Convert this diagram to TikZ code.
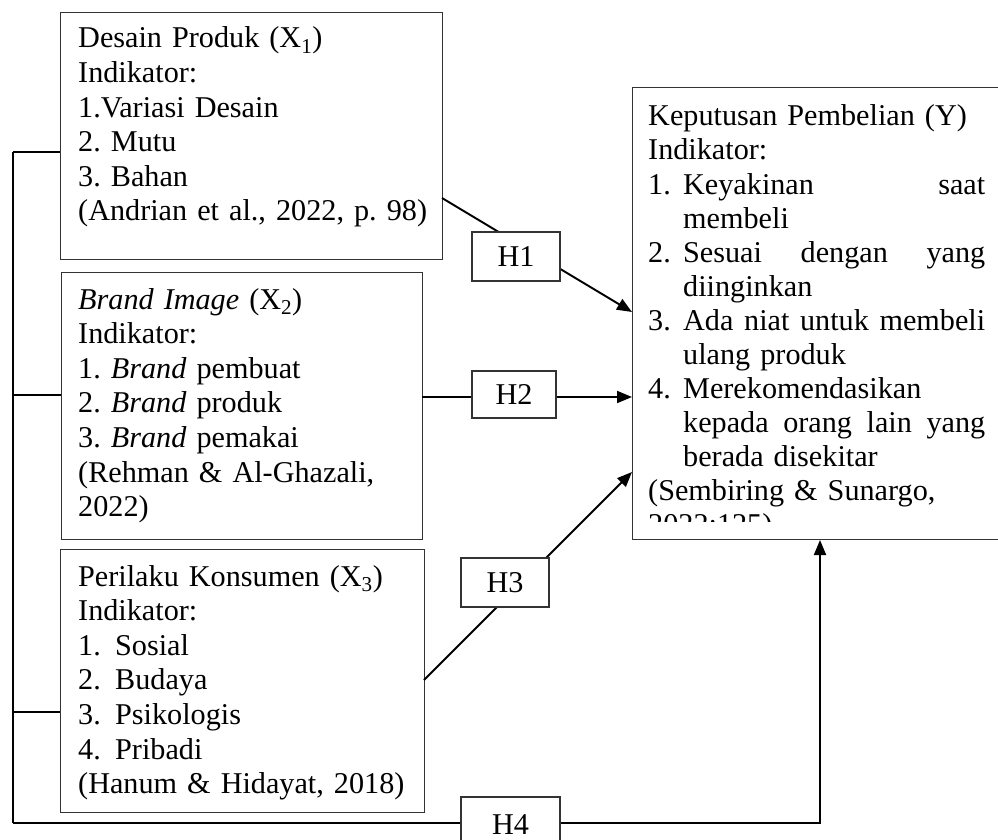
\documentclass[tikz,border=0pt]{standalone}
\usepackage{fontspec}
\setmainfont{Liberation Serif}
\usetikzlibrary{arrows.meta}
\begin{document}
\begin{tikzpicture}[x=1pt,y=-1pt,
  box/.style={draw=black!80, line width=1.1pt, fill=white, inner sep=0pt, anchor=north west},
  hbox/.style={draw=black!80, line width=1.1pt, fill=white, inner sep=0pt,
    font=\fontsize{30.2pt}{34.6pt}\selectfont},
  txt/.style={anchor=base west, inner sep=0pt, text width=#1, align=left,
    font=\fontsize{30.2pt}{34.6pt}\selectfont\frenchspacing},
  conn/.style={line width=1.9pt, black},
  arr/.style={conn, -{Triangle[length=15pt,width=12pt]}}
]
\useasboundingbox (0,0) rectangle (998,840);
\clip (0,0) rectangle (998,840);

% main boxes
\node[box, minimum width=382pt, minimum height=247pt] (X1) at (60,12) {};
\node[box, minimum width=361pt, minimum height=267pt] (X2) at (61,272) {};
\node[box, minimum width=364pt, minimum height=263pt] (X3) at (60,549) {};
\node[box, minimum width=380pt, minimum height=452pt] (Y) at (632,87) {};

% texts
\node[txt=360pt] (t1) at (78,48) {Desain Produk (X\textsubscript{1})\\
Indikator:\\
1.Variasi Desain\\
2. Mutu\\
3. Bahan\\
(Andrian et al., 2022, p. 98)};

\node[txt=340pt] (t2) at (78,309) {\textit{Brand Image} (X\textsubscript{2})\\
Indikator:\\
1. \textit{Brand} pembuat\\
2. \textit{Brand} produk\\
3. \textit{Brand} pemakai\\
(Rehman \& Al-Ghazali,\\
2022)};

\node[txt=340pt] (t3) at (78,586) {Perilaku Konsumen (X\textsubscript{3})\\
Indikator:\\
\makebox[37pt][l]{1.}Sosial\\
\makebox[37pt][l]{2.}Budaya\\
\makebox[37pt][l]{3.}Psikologis\\
\makebox[37pt][l]{4.}Pribadi\\
(Hanum \& Hidayat, 2018)};

\begin{scope}
\clip (633,88) rectangle (998,521);
\node[txt=350pt, font=\fontsize{30.2pt}{34pt}\selectfont\frenchspacing] (ty) at (648,126) {Keputusan Pembelian (Y)\\
Indikator:\\
\makebox[35pt][l]{1.}\makebox[302pt][l]{Keyakinan\hfill saat}\\
\hspace*{35pt}membeli\\
\makebox[35pt][l]{2.}\makebox[302pt][l]{Sesuai\hfill dengan\hfill yang}\\
\hspace*{35pt}diinginkan\\
\makebox[35pt][l]{3.}\makebox[302pt][l]{Ada\hfill niat\hfill untuk\hfill membeli}\\
\hspace*{35pt}ulang produk\\
\makebox[35pt][l]{4.}Merekomendasikan\\
\hspace*{35pt}\makebox[302pt][l]{kepada\hfill orang\hfill lain\hfill yang}\\
\hspace*{35pt}berada disekitar\\
(Sembiring \& Sunargo,\\
2022:125)};
\end{scope}

% coordinates
\coordinate (bust) at (13,152);
\coordinate (b2) at (13,395);
\coordinate (b3) at (13,712);
\coordinate (busb) at (13,823);
\coordinate (x1o) at (442,198);
\coordinate (y1i) at (632,312);
\coordinate (x2o) at (422,397);
\coordinate (y2i) at (632,397);
\coordinate (x3o) at (424,680);
\coordinate (y3i) at (632,472);
\coordinate (yb) at (820,540);

% bus and branches
\draw[conn] (bust) -- (busb);
\draw[conn] (bust) -- (bust -| X1.west);
\draw[conn] (b2) -- (b2 -| X2.west);
\draw[conn] (b3) -- (b3 -| X3.west);
\draw[arr] (busb) -| (yb);

% hypotheses connectors
\draw[arr] (x1o) -- (y1i);
\draw[arr] (x2o) -- (y2i);
\draw[arr] (x3o) -- (y3i);

% H boxes
\node[hbox, minimum width=88pt, minimum height=49pt] (H1) at (516,256.5) {H1};
\node[hbox, minimum width=84pt, minimum height=47pt] (H2) at (514,394.5) {H2};
\node[hbox, minimum width=88pt, minimum height=49pt] (H3) at (505,582.5) {H3};
\node[hbox, minimum width=99pt, minimum height=56pt] (H4) at (510.5,825) {H4};
\end{tikzpicture}
\end{document}
